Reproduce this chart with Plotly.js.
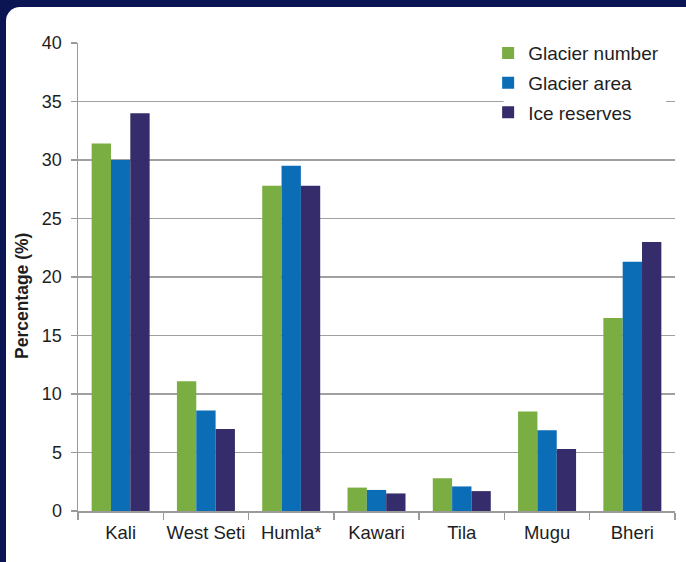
<!DOCTYPE html>
<html>
<head>
<meta charset="utf-8">
<script src="https://cdn.plot.ly/plotly-3.0.1.min.js"></script>
<style>
  html, body { margin: 0; padding: 0; width: 686px; height: 562px; overflow: hidden; background: #0b1553; }
  #panel { position: absolute; left: 6px; top: 7px; width: 700px; height: 580px; background: #ffffff; border-radius: 14px; }
  #chart { position: absolute; left: 0; top: 0; width: 686px; height: 562px; }
</style>
</head>
<body>
<div id="panel"></div>
<div id="chart"></div>
<script>
const categories = ["Kali", "West Seti", "Humla*", "Kawari", "Tila", "Mugu", "Bheri"];
const glacierNumber = [31.4, 11.1, 27.8, 2.0, 2.8, 8.5, 16.5];
const glacierArea   = [30.0, 8.6, 29.5, 1.8, 2.1, 6.9, 21.3];
const iceReserves   = [34.0, 7.0, 27.8, 1.5, 1.7, 5.3, 23.0];
const seriesNames = ["Glacier number", "Glacier area", "Ice reserves"];
const seriesColors = ["#7aad42", "#0b6db5", "#352c6b"];
const yTicks = [0, 5, 10, 15, 20, 25, 30, 35, 40];
const yTitle = "Percentage (%)";

const seriesValues = [glacierNumber, glacierArea, iceReserves];
const traces = seriesValues.map((vals, i) => ({
  type: "bar",
  name: seriesNames[i],
  x: categories,
  y: vals,
  marker: { color: seriesColors[i], line: { width: 0 } },
  legendgroup: "g" + i,
  hoverinfo: "skip"
}));

const layout = {
  width: 686,
  height: 562,
  margin: { l: 78, r: 11, t: 43, b: 51 },
  paper_bgcolor: "rgba(0,0,0,0)",
  plot_bgcolor: "rgba(0,0,0,0)",
  font: { family: "Liberation Sans, Arial, sans-serif", size: 18, color: "#1e1e1e" },
  barmode: "group",
  bargap: 0.32,
  bargroupgap: 0,
  showlegend: true,
  legend: {
    x: 0.687, y: 1.019, xanchor: "left", yanchor: "top",
    bgcolor: "rgba(0,0,0,0)",
    font: { size: 19, color: "#1e1e1e" },
    tracegroupgap: 2,
    itemwidth: 30,
    traceorder: "grouped"
  },
  shapes: [{
    type: "rect", xref: "paper", yref: "paper",
    x0: 0.713, x1: 0.985, y0: 0.83, y1: 1.02,
    fillcolor: "#ffffff", line: { width: 0 }, layer: "above"
  }],
  annotations: [{
    text: "<b>" + yTitle + "</b>",
    xref: "paper", yref: "paper",
    x: -0.095, y: 0.46, xanchor: "center", yanchor: "middle",
    textangle: -90, showarrow: false,
    font: { size: 17.5, color: "#1e1e1e" }
  }],
  xaxis: {
    type: "category",
    showline: true, linecolor: "#9a9a9a", linewidth: 1.5,
    ticks: "outside", tickson: "boundaries", ticklen: 7, tickcolor: "#9a9a9a", tickwidth: 1.5,
    showgrid: false,
    tickangle: 0,
    ticklabelstandoff: 4,
    tickfont: { size: 18.5, color: "#1e1e1e" }
  },
  yaxis: {
    range: [0, 40],
    tickvals: yTicks,
    ticktext: yTicks.map(String),
    showline: true, linecolor: "#9a9a9a", linewidth: 1.5,
    ticks: "outside", ticklen: 6, tickcolor: "#9a9a9a", tickwidth: 1.5,
    showgrid: true, gridcolor: "#a0a0a0", gridwidth: 1.5,
    zeroline: false,
    ticklabelstandoff: 5,
    tickfont: { size: 18, color: "#1e1e1e" }
  }
};

Plotly.newPlot("chart", traces, layout, { displayModeBar: false, staticPlot: true });
</script>
</body>
</html>
